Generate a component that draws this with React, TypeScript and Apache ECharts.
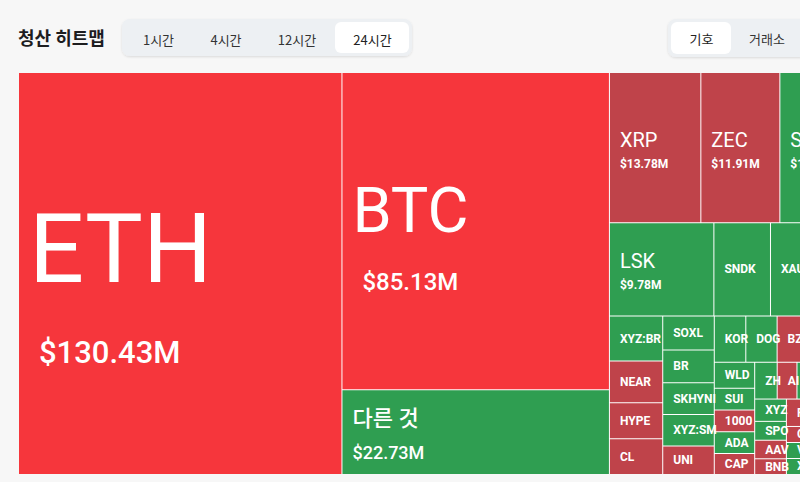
import React, { useEffect, useRef } from "react";
import * as echarts from "echarts";

const TITLE = "청산 히트맵";
const TIMEFRAMES = ["1시간", "4시간", "12시간", "24시간"];
const ACTIVE_TIMEFRAME = "24시간";
const GROUPINGS = ["기호", "거래소"];
const ACTIVE_GROUPING = "기호";

// liquidation totals (USD millions), symbol and dominant liquidated side
const symbols = [
  "ETH", "BTC", "다른 것", "XRP", "ZEC", "SOL", "LSK", "SNDK", "XAU", "LTC",
  "XYZ:BRENTOIL", "NEAR", "HYPE", "CL", "SOXL", "BR", "SKHYNIX", "XYZ:SMSN", "UNI", "KORU",
  "DOGE", "BZ", "ENA", "TRX", "WLD", "SUI", "ADA", "1000PEPE", "CAP", "ZH",
  "AIXBT", "LINK", "AVAX", "TAO", "XYZ:TSLA", "SPOT", "AAVE", "BNB", "MON", "PUMP",
  "ARB", "OP", "XLM", "VIRTUAL", "CRV", "FIL", "APT", "PENGU", "WIF", "TIA",
  "LDO", "INJ", "SEI", "ONDO",
];
const liquidationsM = [
  130.43, 85.13, 22.73, 13.78, 11.91, 11.4, 9.78, 5.3, 4.5, 3.46,
  2.4, 2.24, 1.92, 1.91, 1.75, 1.7, 1.64, 1.63, 1.47, 1.46,
  1.45, 1.42, 1.12, 1.09, 1.05, 0.89, 0.88, 0.88, 0.85, 0.83,
  0.73, 0.72, 0.72, 0.72, 0.71, 0.6, 0.59, 0.5, 0.48, 0.48,
  0.47, 0.47, 0.36, 0.36, 0.36, 0.34, 0.32, 0.3, 0.28, 0.26,
  0.24, 0.22, 0.2, 0.09,
];
const dominantSide = [
  "long", "long", "short", "long", "long", "short", "short", "short", "short", "short",
  "short", "long", "long", "long", "short", "short", "short", "short", "long", "short",
  "short", "long", "long", "short", "short", "short", "short", "long", "long", "short",
  "long", "short", "long", "short", "short", "short", "long", "long", "short", "long",
  "short", "long", "short", "short", "long", "long", "short", "long", "short", "long",
  "short", "long", "short", "long",
];

const FONT = 'Roboto, "Noto Sans CJK KR", sans-serif';
const UI_FONT = '"Noto Sans CJK KR", Roboto, sans-serif';
const RED_HOT = "#f6363c";
const RED = "#bf434a";
const GREEN = "#2f9e51";

const fmt = (v: number) => `$${v.toFixed(2)}M`;
const tierOf = (v: number) => (v >= 100 ? 0 : v >= 50 ? 1 : v >= 15 ? 2 : v >= 9 ? 3 : 4);

const NAME_STYLE = [
  { fontSize: 97, fontWeight: 400, offset: [0, -25] },
  { fontSize: 63, fontWeight: 400, offset: [0, -21] },
  { fontSize: 22, fontWeight: 500, offset: [0, -14] },
  { fontSize: 20, fontWeight: 400, offset: [0, -8] },
  { fontSize: 12, fontWeight: 700, offset: [0, 0] },
];
const VALUE_STYLE = [
  { fontSize: 31, fontWeight: 500, offset: [10, 79] },
  { fontSize: 24, fontWeight: 500, offset: [10, 51] },
  { fontSize: 18, fontWeight: 500, offset: [0, 20] },
  { fontSize: 12, fontWeight: 700, offset: [0, 16] },
  null,
];

const colorOf = (i: number) =>
  dominantSide[i] === "short" ? GREEN : liquidationsM[i] >= 50 ? RED_HOT : RED;

const BOX = { left: 19, top: 73, width: 836, height: 401 };

const TF_CENTERS = [158.5, 226, 297, 372.5];
const GR_CENTERS = [701.5, 767];

export default function App() {
  const ref = useRef<HTMLDivElement>(null);
  useEffect(() => {
    if (!ref.current) return;
    const chart = echarts.init(ref.current, undefined, { renderer: "svg" });

    const nameData = symbols.map((s, i) => {
      const t = tierOf(liquidationsM[i]);
      return {
        name: s,
        value: liquidationsM[i],
        itemStyle: { color: colorOf(i) },
        label: { ...NAME_STYLE[t] },
      };
    });
    const valueData = symbols.map((s, i) => {
      const t = tierOf(liquidationsM[i]);
      const st = VALUE_STYLE[t];
      return {
        name: s,
        value: liquidationsM[i],
        itemStyle: { color: "rgba(0,0,0,0)" },
        label: st ? { ...st, formatter: fmt(liquidationsM[i]) } : { show: false },
      };
    });

    const common = {
      type: "treemap",
      left: BOX.left,
      top: BOX.top,
      width: BOX.width,
      height: BOX.height,
      sort: "desc",
      roam: false,
      nodeClick: false,
      breadcrumb: { show: false },
      animation: false,
      upperLabel: { show: false },
    };

    const graphic: any[] = [
      { type: "rect", z: 0, shape: { x: BOX.left, y: BOX.top, width: BOX.width, height: BOX.height }, style: { fill: "#ffffff" } },
      {
        type: "text", x: 18, y: 37,
        style: { text: TITLE, fontSize: 18, fontWeight: 700, fontFamily: UI_FONT, fill: "#1d1d1f", align: "left", verticalAlign: "middle" },
      },
      {
        type: "rect", shape: { x: 122, y: 19, width: 290, height: 37, r: 8 },
        style: { fill: "#edf0f3", shadowBlur: 2, shadowOffsetY: 1, shadowColor: "rgba(0,0,0,0.12)" },
      },
      {
        type: "rect", shape: { x: 335, y: 22, width: 74, height: 31, r: 6 },
        style: { fill: "#ffffff" },
      },
      {
        type: "rect", shape: { x: 668, y: 19, width: 140, height: 38, r: 8 },
        style: { fill: "#edf0f3", shadowBlur: 2, shadowOffsetY: 1, shadowColor: "rgba(0,0,0,0.12)" },
      },
      {
        type: "rect", shape: { x: 671, y: 22, width: 60, height: 32, r: 6 },
        style: { fill: "#ffffff" },
      },
    ];
    TIMEFRAMES.forEach((t, i) => {
      graphic.push({
        type: "text", x: TF_CENTERS[i], y: 39,
        style: { text: t, fontSize: 13, fontFamily: UI_FONT, fill: t === ACTIVE_TIMEFRAME ? "#222" : "#333", align: "center", verticalAlign: "middle" },
      });
    });
    GROUPINGS.forEach((g, i) => {
      graphic.push({
        type: "text", x: GR_CENTERS[i], y: 38,
        style: { text: g, fontSize: 13, fontFamily: UI_FONT, fill: g === ACTIVE_GROUPING ? "#222" : "#333", align: "center", verticalAlign: "middle" },
      });
    });

    chart.setOption({
      animation: false,
      backgroundColor: "transparent",
      graphic,
      series: [
        {
          ...common,
          z: 2,
          itemStyle: { gapWidth: 1, borderWidth: 0, borderColor: "#ffffff" },
          label: {
            show: true, position: "insideLeft", distance: 0, padding: [0, -6, 0, 10],
            color: "#ffffff", fontFamily: FONT, overflow: "truncate", ellipsis: "",
            formatter: "{b}",
          },
          data: nameData,
        },
        {
          ...common,
          z: 3,
          silent: true,
          itemStyle: { gapWidth: 1, borderWidth: 0, borderColor: "rgba(0,0,0,0)", color: "rgba(0,0,0,0)" },
          label: {
            show: true, position: "insideLeft", distance: 0, padding: [0, 0, 0, 10],
            color: "#ffffff", fontFamily: FONT, overflow: "truncate", ellipsis: "",
          },
          data: valueData,
        },
      ],
    });
    return () => chart.dispose();
  }, []);

  return (
    <div style={{ position: "fixed", left: 0, top: 0, width: 800, height: 482, overflow: "hidden", background: "#f7f7f7" }}>
      <div ref={ref} style={{ position: "absolute", left: 0, top: 0, width: 880, height: 482 }} />
    </div>
  );
}
